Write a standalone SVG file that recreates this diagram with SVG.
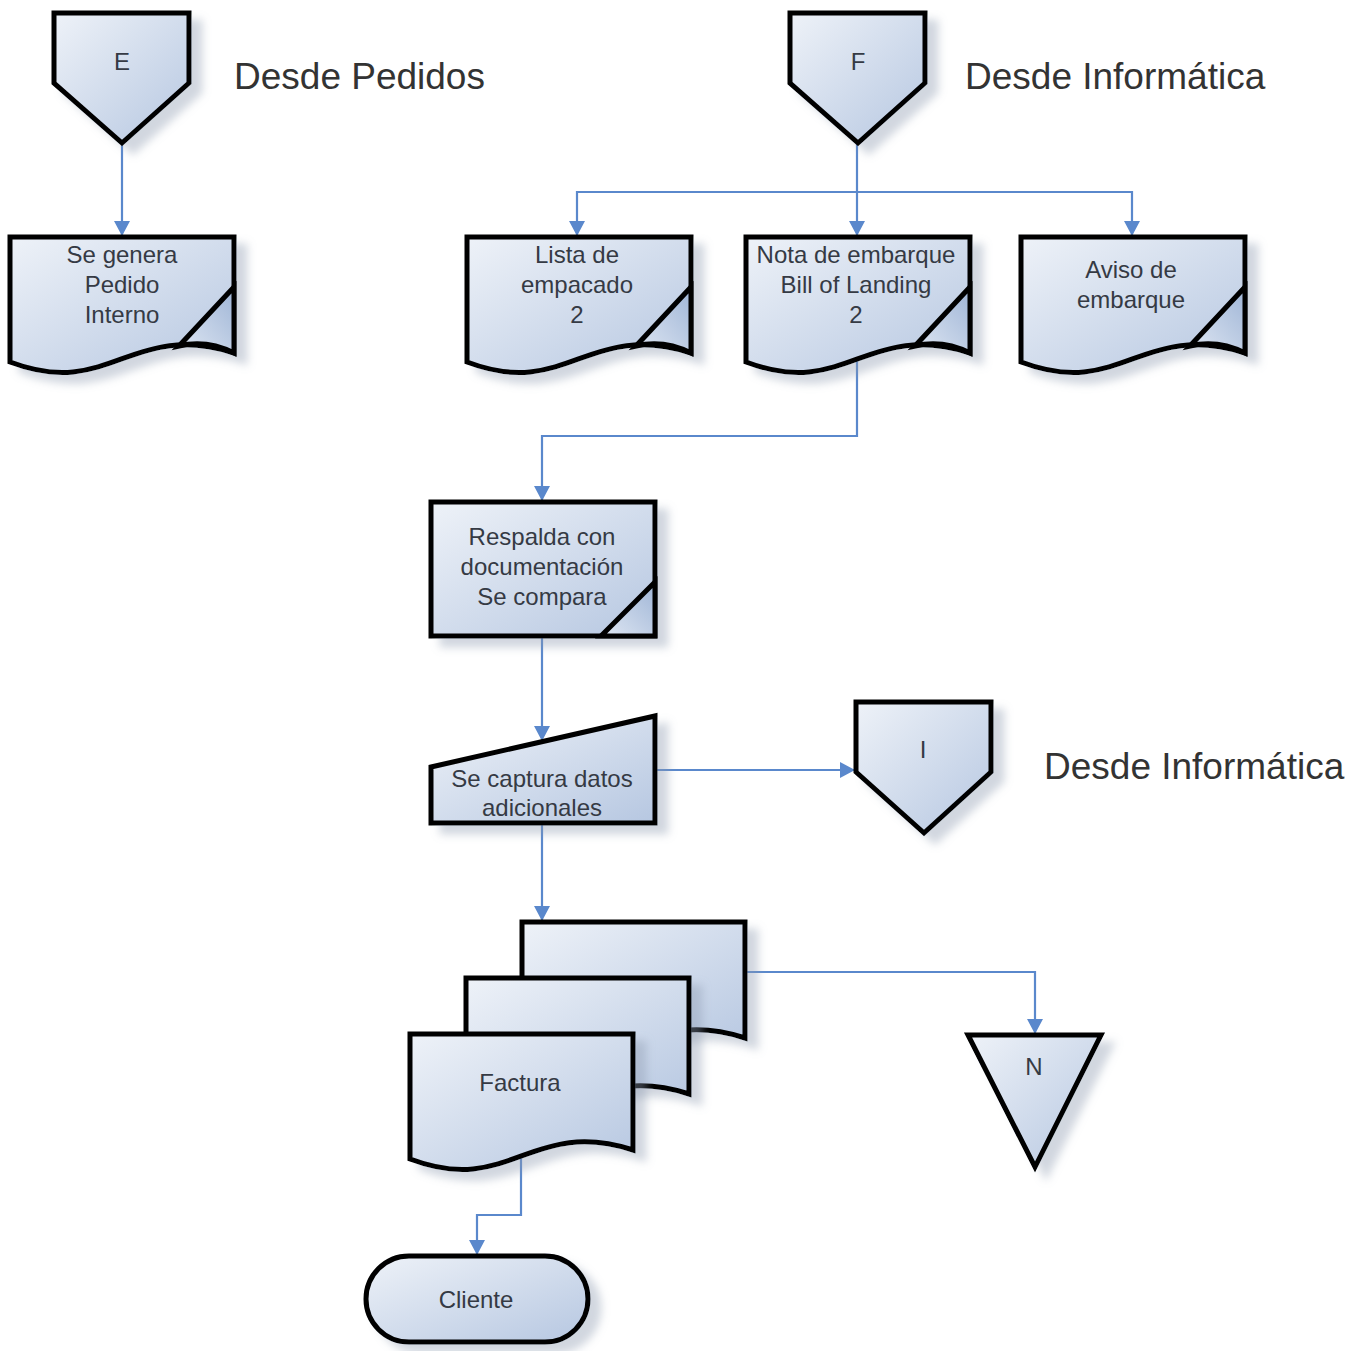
<svg xmlns="http://www.w3.org/2000/svg" width="1366" height="1351" viewBox="0 0 1366 1351">
<style>
.shape{fill:url(#g);stroke:#000;stroke-width:5;stroke-linejoin:miter;filter:url(#sh)}
.fold{fill:url(#gf);stroke:#000;stroke-width:5}
.lbl{font-family:"Liberation Sans",Arial,sans-serif;font-size:24px;fill:#353a44;text-anchor:middle}
.big{font-family:"Liberation Sans",Arial,sans-serif;font-size:37px;fill:#333}
.con{fill:none;stroke:#5a88cc;stroke-width:2.2;marker-end:url(#arr)}
</style>
<defs>
<linearGradient id="g" x1="0" y1="0" x2="1" y2="1">
<stop offset="0" stop-color="#eef2f8"/>
<stop offset="1" stop-color="#b6c7e1"/>
</linearGradient>
<linearGradient id="gf" x1="0" y1="1" x2="1" y2="0">
<stop offset="0" stop-color="#dfe7f3"/>
<stop offset="1" stop-color="#9fb5d6"/>
</linearGradient>
<filter id="sh" x="-10%" y="-10%" width="130%" height="130%">
<feDropShadow dx="11" dy="9" stdDeviation="4" flood-color="#8c9ab0" flood-opacity="0.4"/>
</filter>
<marker id="arr" markerUnits="userSpaceOnUse" markerWidth="16" markerHeight="16" refX="15" refY="8" orient="auto">
<path d="M0,0 L15,8 L0,16 Z" fill="#5a88cc"/>
</marker>
</defs>

<g id="connectors">
<path class="con" d="M122,143 V236"/>
<path class="con" d="M857,143 V236"/>
<path class="con" d="M857,192 H577 V236"/>
<path class="con" d="M857,192 H1132 V236"/>
<path class="con" d="M857,357 V436 H542 V501"/>
<path class="con" d="M542,636 V741"/>
<path class="con" d="M655,770 H855"/>
<path class="con" d="M542,823 V921"/>
<path class="con" d="M745,972 H1035 V1034"/>
<path class="con" d="M521,1154 V1215 H477 V1255"/>
</g>

<g id="offpage-E" transform="translate(54,13)">
<path class="shape" d="M0,0 H135 V70 L68,130 L0,70 Z"/>
<text class="lbl" x="68" y="57">E</text>
</g>
<text id="lbl-desde-pedidos" class="big" x="234" y="89">Desde Pedidos</text>

<g id="offpage-F" transform="translate(790,13)">
<path class="shape" d="M0,0 H135 V70 L68,130 L0,70 Z"/>
<text class="lbl" x="68" y="57">F</text>
</g>
<text id="lbl-desde-informatica-1" class="big" x="965" y="89">Desde Informática</text>

<g id="doc-pedido" transform="translate(10,237)">
<path class="shape" d="M0,0 H224 V116 C120,83 100,163 0,125 Z"/>
<path class="fold" d="M224,50 L169,109 C190,104 208,108 224,116 Z"/>
<text class="lbl" x="112" y="26">Se genera</text>
<text class="lbl" x="112" y="56">Pedido</text>
<text class="lbl" x="112" y="86">Interno</text>
</g>

<g id="doc-lista" transform="translate(467,237)">
<path class="shape" d="M0,0 H224 V116 C120,83 100,163 0,125 Z"/>
<path class="fold" d="M224,50 L169,109 C190,104 208,108 224,116 Z"/>
<text class="lbl" x="110" y="26">Lista de</text>
<text class="lbl" x="110" y="56">empacado</text>
<text class="lbl" x="110" y="86">2</text>
</g>

<g id="doc-nota" transform="translate(746,237)">
<path class="shape" d="M0,0 H224 V116 C120,83 100,163 0,125 Z"/>
<path class="fold" d="M224,50 L169,109 C190,104 208,108 224,116 Z"/>
<text class="lbl" x="110" y="26">Nota de embarque</text>
<text class="lbl" x="110" y="56">Bill of Landing</text>
<text class="lbl" x="110" y="86">2</text>
</g>

<g id="doc-aviso" transform="translate(1021,237)">
<path class="shape" d="M0,0 H224 V116 C120,83 100,163 0,125 Z"/>
<path class="fold" d="M224,50 L169,109 C190,104 208,108 224,116 Z"/>
<text class="lbl" x="110" y="41">Aviso de</text>
<text class="lbl" x="110" y="71">embarque</text>
</g>

<g id="doc-respalda" transform="translate(431,502)">
<path class="shape" d="M0,0 H224 V134 H0 Z"/>
<path class="fold" d="M224,80 L170,134 H224 Z"/>
<text class="lbl" x="111" y="43">Respalda con</text>
<text class="lbl" x="111" y="73">documentación</text>
<text class="lbl" x="111" y="103">Se compara</text>
</g>

<g id="input-captura" transform="translate(431,716)">
<path class="shape" d="M0,51 L224,0 V107 H0 Z"/>
<text class="lbl" x="111" y="71">Se captura datos</text>
<text class="lbl" x="111" y="100">adicionales</text>
</g>

<g id="offpage-I" transform="translate(856,702)">
<path class="shape" d="M0,0 H135 V70 L68,131 L0,70 Z"/>
<text class="lbl" x="67" y="56">I</text>
</g>
<text id="lbl-desde-informatica-2" class="big" x="1044" y="779">Desde Informática</text>

<g id="doc-factura">
<g transform="translate(522,922)">
<path class="shape" d="M0,0 H223 V116 C120,83 100,163 0,125 Z"/>
</g>
<g transform="translate(466,978)">
<path class="shape" d="M0,0 H223 V116 C120,83 100,163 0,125 Z"/>
</g>
<g transform="translate(410,1034)">
<path class="shape" d="M0,0 H223 V116 C120,83 100,163 0,125 Z"/>
<text class="lbl" x="110" y="57">Factura</text>
</g>
</g>

<g id="offpage-N">
<path class="shape" d="M968,1035 H1101 L1035,1167 Z"/>
<text class="lbl" x="1034" y="1075">N</text>
</g>

<g id="term-cliente">
<rect class="shape" x="366" y="1256" width="222" height="86" rx="43" ry="43"/>
<text class="lbl" x="476" y="1308">Cliente</text>
</g>
</svg>
